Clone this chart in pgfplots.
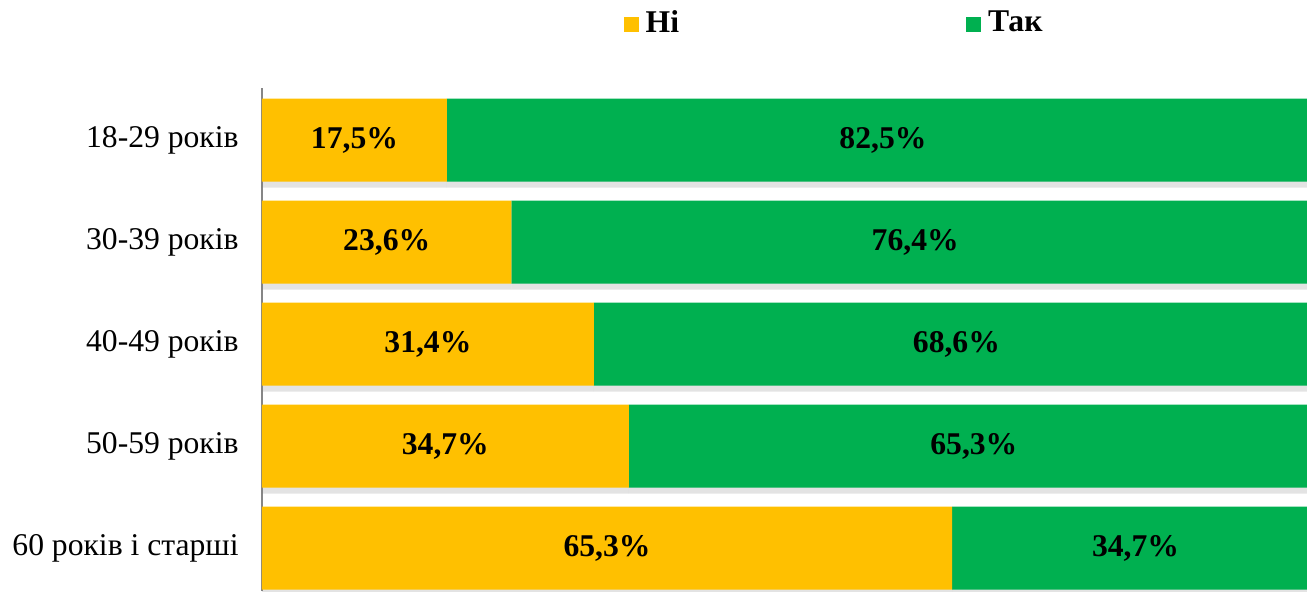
\documentclass[border=0pt]{standalone}
\usepackage{fontspec}
\setmainfont{Liberation Serif}
\usepackage{pgfplots}
\pgfplotsset{compat=1.18}
\usetikzlibrary{shadows}
\definecolor{ni}{HTML}{FFC000}
\definecolor{tak}{HTML}{00B050}
\definecolor{axisgray}{HTML}{868686}

\begin{document}
\begin{tikzpicture}
\begin{axis}[
  xbar stacked, bar width=0.83cm,
  width=10.57cm, height=5.03cm, scale only axis,
  xmin=0, xmax=100, ymin=-0.51, ymax=4.42, y dir=reverse,
  axis x line=none, axis y line*=left,
  y axis line style={axisgray, line width=0.45pt},
  ytick={0,...,4},
  yticklabels={18-29 років, 30-39 років, 40-49 років, 50-59 років, 60 років і старші},
  major tick length=0pt,
  yticklabel style={font=\fontsize{9}{10}\selectfont, xshift=-0.11cm},
  nodes near coords={\pgfmathprintnumber[assume math mode=true, fixed, fixed zerofill, precision=1, use comma]{\pgfplotspointmeta}\%},
  every node near coord/.append style={font=\bfseries\fontsize{9}{10}\selectfont, text=black, anchor=center},
  legend columns=2,
  legend style={draw=none, fill=none, inner sep=0pt, at={(axis description cs:0.3415,1.127)}, anchor=west,
    font=\bfseries\fontsize{9}{10}\selectfont, /tikz/every even column/.style={column sep=2.8cm}},
  legend image code/.code={\fill[#1] (0cm,-0.075cm) rectangle (0.15cm,0.075cm);},
  bar shadow/.style={drop shadow={shadow xshift=0pt, shadow yshift=-0.06cm, opacity=0.22}},
]
\addlegendimage{fill=ni, draw=none}
\addlegendimage{fill=tak, draw=none}
\addplot[fill=ni, draw=none, bar shadow, forget plot] coordinates {
  (17.5,0) (23.6,1) (31.4,2) (34.7,3) (65.3,4)};
\addplot[fill=tak, draw=none, bar shadow, forget plot] coordinates {
  (82.5,0) (76.4,1) (68.6,2) (65.3,3) (34.7,4)};
\legend{Ні, Так}
\end{axis}
\pgfresetboundingbox
\path (current axis.south west) ++(-2.62cm,0) rectangle ++(13.07cm,5.91cm);
\end{tikzpicture}
\end{document}
